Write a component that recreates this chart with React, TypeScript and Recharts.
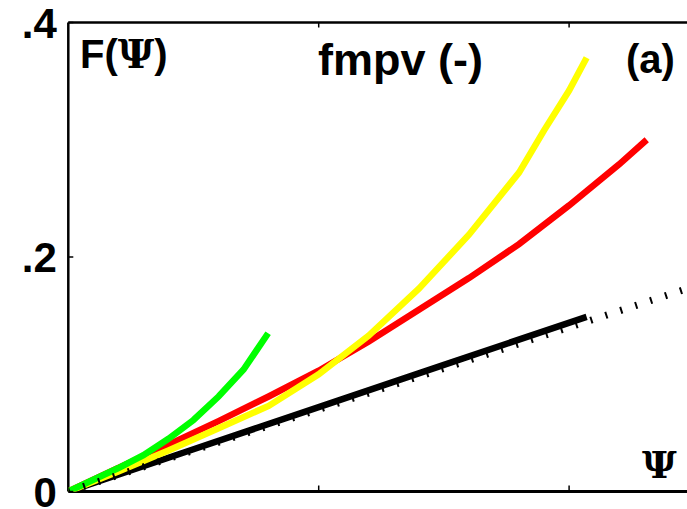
import React from "react";
import { LineChart, Line, XAxis, YAxis, ReferenceLine } from "recharts";

// Ψ positions (x) and F(Ψ) values (y)
const greenU = [0, 0.1, 0.2, 0.3, 0.4, 0.5, 0.6, 0.7, 0.798];
const greenV = [0, 0.01, 0.02, 0.031, 0.045, 0.061, 0.081, 0.104, 0.135];

const redU = [0, 0.2, 0.4, 0.6, 0.8, 1.0, 1.2, 1.4, 1.6, 1.8, 2.0, 2.2, 2.31];
const redV = [0, 0.02, 0.04, 0.06, 0.081, 0.103, 0.128, 0.155, 0.182, 0.211, 0.244, 0.279, 0.3];

const yellowU = [0, 0.2, 0.4, 0.6, 0.8, 1.0, 1.2, 1.4, 1.6, 1.8, 1.9, 2.0, 2.07];
const yellowV = [0, 0.017, 0.035, 0.054, 0.073, 0.1, 0.133, 0.173, 0.219, 0.272, 0.308, 0.342, 0.37];

const blackU = [0, 0.5, 1.0, 1.5, 2.07];
const blackV = [0, 0.036, 0.072, 0.108, 0.149];

const dottedU = [0, 0.5, 1, 1.5, 2, 2.5];
const dottedV = [0, 0.035, 0.07, 0.105, 0.14, 0.175];

const xTicks = [1, 2];
const yTicks = [0, 0.2, 0.4];
const yTickLabels = ["0", ".2", ".4"];

const title = "fmpv (-)";
const yLabel = "F(";
const psi = "Ψ";
const panel = "(a)";

const toPts = (us: number[], vs: number[]) => us.map((u, i) => ({ u, v: vs[i] }));

const SANS = "'Liberation Sans', Arial, sans-serif";
const SERIF = "'DejaVu Serif', 'Liberation Serif', serif";

const XTickUp = (props: any) => {
  const { x, y } = props;
  return <line x1={x} y1={y} x2={x} y2={y - 6} stroke="#000" strokeWidth={1.5} />;
};
const XTickDown = (props: any) => {
  const { x, y } = props;
  return <line x1={x} y1={y} x2={x} y2={y + 5} stroke="#000" strokeWidth={1.5} />;
};
const YTick = (props: any) => {
  const { x, y, payload } = props;
  const idx = yTicks.indexOf(payload.value);
  return (
    <g>
      <line x1={x} y1={y} x2={x + 5} y2={y} stroke="#000" strokeWidth={1.5} />
      <text
        x={x - 11.5}
        y={y}
        dy="0.36em"
        textAnchor="end"
        fontFamily={SANS}
        fontWeight="bold"
        fontSize={42}
        fill="#000"
      >
        {idx >= 0 ? yTickLabels[idx] : ""}
      </text>
    </g>
  );
};

const lineProps = {
  dataKey: "v",
  type: "linear" as const,
  strokeWidth: 6.5,
  dot: false,
  activeDot: false,
  isAnimationActive: false,
};

export default function App() {
  return (
    <div
      style={{
        position: "fixed",
        left: 0,
        top: 0,
        width: 687,
        height: 509,
        overflow: "hidden",
        background: "#fff",
      }}
    >
      <LineChart
        width={700}
        height={509}
        margin={{ top: 21.5, right: 5.7, bottom: 16.5, left: 0 }}
      >
        <XAxis
          type="number"
          dataKey="u"
          domain={[0, 2.5]}
          ticks={xTicks}
          height={1}
          tickSize={0}
          tickMargin={0}
          tickLine={false}
          tick={<XTickUp />}
          axisLine={false}
          allowDataOverflow
        />
        <XAxis
          xAxisId="top"
          orientation="top"
          type="number"
          dataKey="u"
          domain={[0, 2.5]}
          ticks={xTicks}
          height={1}
          tickSize={0}
          tickMargin={0}
          tickLine={false}
          tick={<XTickDown />}
          axisLine={false}
          allowDataOverflow
        />
        <YAxis
          type="number"
          domain={[0, 0.4]}
          ticks={yTicks}
          width={68.3}
          tickSize={0}
          tickMargin={0}
          tickLine={false}
          tick={<YTick />}
          axisLine={false}
          allowDataOverflow
        />
        <ReferenceLine y={0} stroke="#000" strokeWidth={3} ifOverflow="visible" />
        <ReferenceLine y={0.4} stroke="#000" strokeWidth={2.5} ifOverflow="visible" />
        <ReferenceLine x={0} stroke="#000" strokeWidth={2.5} ifOverflow="visible" />
        <Line {...lineProps} data={toPts(blackU, blackV)} stroke="#000000" />
        <Line {...lineProps} data={toPts(redU, redV)} stroke="#ff0000" />
        <Line {...lineProps} data={toPts(yellowU, yellowV)} stroke="#ffff00" />
        <Line {...lineProps} data={toPts(greenU, greenV)} stroke="#00ff00" />
        <Line
          {...lineProps}
          data={toPts(dottedU, dottedV)}
          stroke="#000000"
          strokeWidth={7}
          strokeDasharray="2 13.7"
        />
      </LineChart>
      <svg
        width={687}
        height={509}
        style={{ position: "absolute", left: 0, top: 0, pointerEvents: "none" }}
      >
        <text x={80} y={68} fontFamily={SANS} fontWeight="bold" fontSize={40} fill="#000">
          {yLabel}
          <tspan fontFamily={SERIF}>{psi}</tspan>)
        </text>
        <text x={318} y={75} fontFamily={SANS} fontWeight="bold" fontSize={45} fill="#000">
          {title}
        </text>
        <text x={626} y={73} fontFamily={SANS} fontWeight="bold" fontSize={40} fill="#000">
          {panel}
        </text>
        <text x={642} y={478} fontFamily={SERIF} fontWeight="bold" fontSize={38} fill="#000">
          {psi}
        </text>
      </svg>
    </div>
  );
}
